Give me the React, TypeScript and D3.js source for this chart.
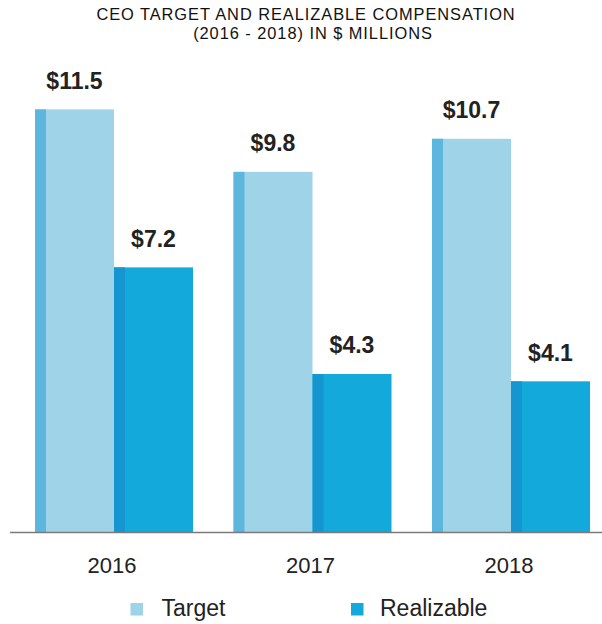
import React from "react";
import * as d3 from "d3";

const years = ["2016", "2017", "2018"];
const seriesNames = ["Target", "Realizable"];
const targetValues = [11.5, 9.8, 10.7];
const realizableValues = [7.2, 4.3, 4.1];
const titleLines = ["CEO TARGET AND REALIZABLE COMPENSATION", "(2016 - 2018) IN $ MILLIONS"];

const W = 602;
const H = 624;
const FONT = "'Liberation Sans', Arial, Helvetica, sans-serif";

const colors: Record<string, { main: string; side: string }> = {
  Target: { main: "#9fd4e8", side: "#5db6de" },
  Realizable: { main: "#13aadb", side: "#1596d0" },
};

export default function App() {
  const baseline = 532;
  const x = d3.scaleBand<string>().domain(years).range([14.75, 610.25]).paddingInner(0.204).paddingOuter(0.102);
  const xs = d3.scaleBand<string>().domain(seriesNames).range([0, x.bandwidth()]).padding(0);
  const y = d3.scaleLinear().domain([0, 12]).range([baseline, 91]);
  const side = 11;

  const data = years.map((yr, i) => ({
    year: yr,
    values: [
      { key: "Target", v: targetValues[i] },
      { key: "Realizable", v: realizableValues[i] },
    ],
  }));

  return (
    <svg
      width={W}
      height={H}
      style={{ position: "absolute", left: 0, top: 0, background: "#fff" }}
      fontFamily={FONT}
    >
      <text x={306} y={20} textAnchor="middle" fontSize={16.4} letterSpacing={0.95} fill="#111">
        {titleLines[0]}
      </text>
      <text x={313} y={38.8} textAnchor="middle" fontSize={16.4} letterSpacing={0.95} fill="#111">
        {titleLines[1]}
      </text>

      {data.map((g) => (
        <g key={g.year} transform={`translate(${x(g.year)},0)`}>
          {g.values.map((d) => {
            const bx = xs(d.key)!;
            const bw = xs.bandwidth();
            const top = y(d.v);
            const c = colors[d.key];
            return (
              <g key={d.key}>
                <rect x={bx} y={top} width={bw} height={baseline - top} fill={c.main} />
                <rect x={bx} y={top} width={side} height={baseline - top} fill={c.side} />
                <text
                  x={bx + bw / 2}
                  y={top - 20.5}
                  textAnchor="middle"
                  fontSize={23}
                  fontWeight="bold"
                  fill="#222"
                >
                  {`$${d.v.toFixed(1)}`}
                </text>
              </g>
            );
          })}
          <text x={x.bandwidth() / 2 - 2} y={573} textAnchor="middle" fontSize={22} fill="#222">
            {g.year}
          </text>
        </g>
      ))}

      <line x1={10} x2={602} y1={baseline + 0.5} y2={baseline + 0.5} stroke="#7f7878" strokeWidth={1.6} />

      <g>
        <rect x={130.5} y={603} width={12.5} height={12.5} fill={colors.Target.main} />
        <text x={161.5} y={615.5} fontSize={23} fill="#222">
          {seriesNames[0]}
        </text>
        <rect x={351} y={603} width={12.5} height={12.5} fill={colors.Realizable.main} />
        <text x={380} y={615.5} fontSize={23} fill="#222">
          {seriesNames[1]}
        </text>
      </g>
    </svg>
  );
}
